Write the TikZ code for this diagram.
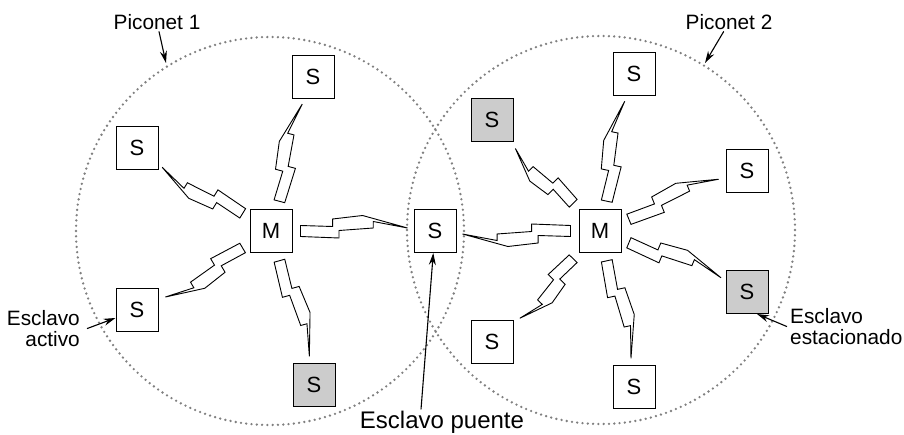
\documentclass[tikz,border=0pt]{standalone}
\usepackage{fontspec}
\setmainfont{Liberation Sans}
\usetikzlibrary{positioning, arrows.meta, calc}

% radio link: wide end at #1, sharp end at #2
\newcommand\rayo[2]{%
  \path let \p1=($(#2)-(#1)$), \n1={atan2(\y1,\x1)}, \n2={\n1+180} in
    ($(#1.\n1)!8pt!(#2)$) coordinate (ra)
    ($(#2.\n2)!6pt!(#1)$) coordinate (rb);
  \pgfmathanglebetweenpoints{\pgfpointanchor{ra}{center}}{\pgfpointanchor{rb}{center}}%
  \let\rang\pgfmathresult
  \pgfpointdiff{\pgfpointanchor{ra}{center}}{\pgfpointanchor{rb}{center}}%
  \pgfgetlastxy{\rdx}{\rdy}%
  \pgfmathveclen{\rdx}{\rdy}%
  \let\rlen\pgfmathresult
  \begin{scope}[shift={(ra)}, rotate=\rang, x=\rlen pt, y=1pt]
    \draw[bolt] (0,5.5) -- (0.3,4.5) -- (0.3,12) -- (0.58,15.5) -- (1,3)
      -- (0.68,9.5) -- (0.68,3) -- (0.36,0.5) -- (0.36,-7) -- (0,-5.5) -- cycle;
  \end{scope}
}

\begin{document}
\begin{tikzpicture}[x=1pt, y=-1pt, font=\fontsize{20.8pt}{21.5pt}\selectfont,
    box/.style={draw, line width=1pt, fill=white, minimum width=42pt, minimum height=43pt,
      inner sep=0pt, font=\fontsize{22pt}{24pt}\selectfont},
    parked/.style={box, fill=gray!40},
    bolt/.style={draw, line width=0.9pt, fill=white, line join=miter},
    piconet/.style={draw=black!50, line width=2.6pt, line cap=round, dash pattern=on 0pt off 5.3pt},
    label/.style={inner sep=1pt},
    flecha/.style={-{Stealth[length=12pt, width=7pt]}, line width=1.1pt}]
  \useasboundingbox (0,0) rectangle (904,435);

  % the two piconets
  \draw[piconet] (270,231) circle[radius=194];
  \draw[piconet] (601,230) circle[radius=194];

  % piconet 1
  \node[box] (m1) at (271,231) {M};
  \node[box] (s1n) at (313,77) {S};
  \node[box] (s1nw) at (137,148) {S};
  \node[box] (s1sw) at (137,310) {S};
  \node[parked] (s1s) at (314,385) {S};
  % bridge
  \node[box] (sp) at (435,231) {S};
  % piconet 2
  \node[box] (m2) at (600,231) {M};
  \node[box] (s2n) at (634,74) {S};
  \node[parked] (s2nw) at (492,120) {S};
  \node[box] (s2e) at (747,171) {S};
  \node[parked] (s2se) at (747,292) {S};
  \node[box] (s2s) at (634,387) {S};
  \node[box] (s2sw) at (492,342) {S};

  \foreach \s in {s1n,s1nw,s1sw,s1s,sp} {\rayo{m1}{\s}}
  \foreach \s in {sp,s2n,s2nw,s2e,s2se,s2s,s2sw} {\rayo{m2}{\s}}

  % labels
  \node[label, anchor=base] (pn1) at (157,30) {Piconet 1};
  \node[label, anchor=base] (pn2) at (729,30) {Piconet 2};
  \node[inner sep=0pt, align=right, anchor=north east] (eact) at (80,310) {Esclavo\\activo};
  \node[inner sep=0pt, align=left, anchor=north west] (eest) at (790,308) {Esclavo\\estacionado};
  \node[label, anchor=base, font=\fontsize{24pt}{26pt}\selectfont] (epte) at (442,428) {Esclavo puente};

  \coordinate (pn1t) at (166,63);
  \coordinate (pn2t) at (705,63);
  \draw[flecha] (pn1) -- (pn1t);
  \draw[flecha] (pn2) -- (pn2t);
  \draw[flecha] ([xshift=7pt]eact.east) -- (s1sw);
  \draw[flecha] ([xshift=-3pt]eest.west) -- ([xshift=10pt]s2se.south);
  \draw[flecha] ([xshift=-21pt]epte.north) -- (sp);
\end{tikzpicture}
\end{document}
